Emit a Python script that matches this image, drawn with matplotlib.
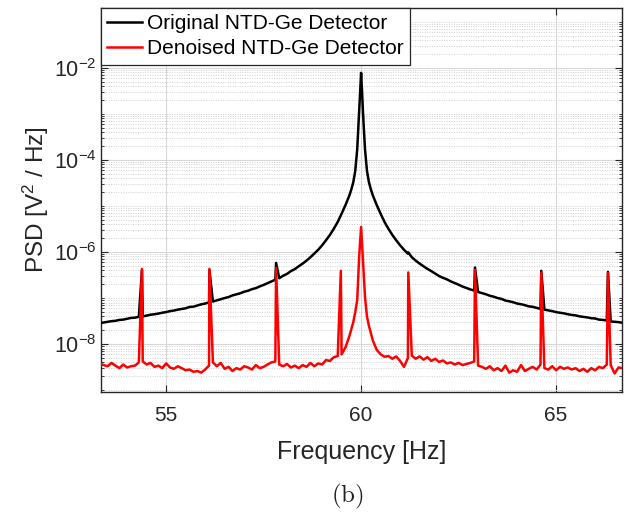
import numpy as np
import matplotlib
matplotlib.use("Agg")
import matplotlib.pyplot as plt
from matplotlib.ticker import LogLocator, FixedLocator, NullFormatter, NullLocator

plt.rcParams['font.family'] = ['Liberation Sans', 'DejaVu Sans']
plt.rcParams['mathtext.fontset'] = 'custom'
plt.rcParams['mathtext.rm'] = 'Liberation Sans'
plt.rcParams['mathtext.it'] = 'Liberation Sans:italic'
plt.rcParams['mathtext.default'] = 'regular'

# ---------------- data ----------------
# frequency bins (Hz), 0.1 Hz spacing
freq_grid = np.round(np.arange(53.3, 66.75, 0.1), 2)

# Original NTD-Ge detector PSD on the grid (units of 1e-8 V^2/Hz)
orig_psd_e8 = [
    2.85, 2.95, 3.05, 3.15, 3.2, 3.35, 3.4, 3.55, 3.7, 3.75,
    3.9, 4.0, 4.15, 4.35, 4.45, 4.6, 4.8, 4.95, 5.2, 5.35,
    5.6, 5.8, 6.0, 6.4, 6.5, 6.9, 7.3, 7.6, 8.0, 8.4,
    8.9, 9.4, 10.0, 10.5, 11.4, 12.0, 12.7, 13.7, 14.4, 15.6,
    16.4, 17.9, 19.3, 21.0, 22.8, 25.0, 27.0, 30.5, 33.5, 38.5,
    42.5, 49.0, 56.0, 65.0, 77.0, 93.0, 112.0, 140.0, 180.0, 235.0,
    320.0, 450.0, 680.0, 1050.0, 1700.0, 3300.0, 17000.0, 780000.0, 17000.0, 3300.0,
    1700.0, 1050.0, 680.0, 450.0, 320.0, 235.0, 180.0, 140.0, 112.0, 92.0,
    77.0, 65.0, 56.0, 49.0, 43.0, 38.5, 34.0, 30.0, 27.5, 25.5,
    23.0, 21.2, 19.5, 17.8, 16.6, 15.4, 14.6, 13.5, 12.8, 12.1,
    11.2, 10.7, 10.0, 9.6, 8.8, 8.5, 8.1, 7.6, 7.35, 7.0,
    6.6, 6.45, 6.1, 5.8, 5.6, 5.4, 5.2, 4.95, 4.8, 4.65,
    4.45, 4.3, 4.2, 4.0, 3.9, 3.8, 3.65, 3.6, 3.4, 3.35,
    3.25, 3.1, 3.05, 3.0, 2.9,
]
# extra points close to the 60 Hz line (Hz, 1e-8 V^2/Hz)
orig_center_freq = [59.75, 59.85, 59.95, 59.975, 60.025, 60.05, 60.15, 60.25]
orig_center_e8 = [2300.0, 5800.0, 110000.0, 300000.0, 300000.0, 100000.0, 5800.0, 2300.0]
# harmonic spikes on the original curve
orig_spike_freq = [54.38, 56.11, 57.82, 61.21, 62.92, 64.62, 66.33]
orig_spike_e8 = [40.0, 40.0, 58.0, 98.0, 46.0, 39.0, 37.0]

# Denoised detector PSD on the grid (units of 1e-9 V^2/Hz)
den_psd_e9 = [
    3.8, 3.5, 3.3, 3.9, 3.4, 3.0, 3.6, 3.1, 3.3, 3.4,
    4.0, 4.2, 3.6, 3.9, 3.2, 3.4, 3.0, 3.8, 3.1, 2.9,
    3.3, 3.0, 2.7, 2.8, 2.5, 2.6, 2.4, 2.8, 3.4, 4.0,
    3.3, 3.9, 2.9, 3.2, 2.6, 3.0, 2.8, 3.3, 3.1, 2.8,
    3.5, 3.0, 3.2, 3.6, 4.0, 4.2, 3.6, 3.3, 3.7, 3.1,
    3.4, 3.0, 3.5, 3.2, 3.9, 3.3, 3.8, 3.6, 4.5, 4.3,
    5.2, 5.5, 6.0, 8.5, 15.0, 30.0, 90.0, 3500.0, 105.0, 25.0,
    12.0, 7.5, 6.0, 5.3, 5.5, 4.8, 5.4, 4.3, 3.2, 5.0,
    5.6, 4.8, 5.4, 4.6, 5.2, 4.3, 4.8, 4.1, 4.4, 3.8,
    4.0, 3.6, 3.9, 3.5, 3.7, 3.9, 4.2, 3.4, 3.2, 2.9,
    3.3, 2.7, 3.0, 2.6, 3.4, 2.4, 2.7, 2.5, 3.5, 2.6,
    2.9, 3.2, 2.8, 3.6, 3.0, 2.8, 3.3, 2.7, 3.2, 2.9,
    3.1, 2.8, 3.0, 2.6, 2.9, 2.5, 3.0, 2.7, 3.2, 3.0,
    3.6, 3.5, 2.3, 3.1, 3.0,
]
den_center_freq = [59.85, 59.95, 60.05, 60.15]
den_center_e9 = [50.0, 800.0, 600.0, 40.0]
den_spike_freq = [54.38, 56.11, 57.82, 59.48, 61.21, 62.92, 64.62, 66.33]
den_spike_e9 = [430.0, 430.0, 450.0, 390.0, 360.0, 410.0, 360.0, 350.0]

legend_labels = ['Original NTD-Ge Detector', 'Denoised NTD-Ge Detector']
x_ticks = [55, 60, 65]
y_ticks = [1e-8, 1e-6, 1e-4, 1e-2]


def merge(fg, vg, *pairs):
    f = list(fg)
    v = list(vg)
    for fx, vx in pairs:
        f += list(fx)
        v += list(vx)
    order = np.argsort(f, kind='stable')
    return np.asarray(f)[order], np.asarray(v)[order]


of, ov = merge(freq_grid, orig_psd_e8, (orig_center_freq, orig_center_e8),
               (orig_spike_freq, orig_spike_e8))
ov = ov * 1e-8
df, dv = merge(freq_grid, den_psd_e9, (den_center_freq, den_center_e9),
               (den_spike_freq, den_spike_e9))
dv = dv * 1e-9

# ---------------- figure ----------------
fig = plt.figure(figsize=(6.29, 5.15), dpi=100)
ax = fig.add_axes([101 / 629, 1 - 392 / 515, 521 / 629, 384 / 515])

ax.semilogy(of, ov, color='black', lw=1.8, label=legend_labels[0], zorder=3)
ax.semilogy(df, dv, color='#ff0000', lw=1.8, label=legend_labels[1], zorder=4)

ax.set_xlim(53.33, 66.69)
ax.set_ylim(9.1e-10, 2.0e-1)

ax.xaxis.set_major_locator(FixedLocator(x_ticks))
ax.xaxis.set_minor_locator(NullLocator())
ax.yaxis.set_major_locator(FixedLocator(y_ticks))
ax.yaxis.set_minor_locator(LogLocator(base=10, subs=np.arange(1, 10), numticks=30))
ax.yaxis.set_minor_formatter(NullFormatter())
ax.set_yticklabels([r'$10^{-8}$', r'$10^{-6}$', r'$10^{-4}$', r'$10^{-2}$'])

ax.tick_params(axis='both', which='both', direction='in', top=True, right=True,
               colors='#262626', labelcolor='#262626')
ax.tick_params(axis='x', which='major', length=5, pad=10, labelsize=15)
ax.tick_params(axis='y', which='major', length=5, pad=3, labelsize=15.5)
ax.tick_params(axis='y', which='minor', length=2.5)

ax.grid(True, which='major', color='#d8d8d8', lw=0.8, ls='-')
ax.grid(True, which='minor', axis='y', color='#d0d0d0', lw=0.7, ls=(0, (1, 1.5)))
ax.set_axisbelow(True)
for s in ax.spines.values():
    s.set_color('#262626')
    s.set_linewidth(1.0)

ax.set_xlabel('Frequency [Hz]', fontsize=18, color='#262626', labelpad=11)
ax.set_ylabel(r'PSD [V$^2$ / Hz]', fontsize=17.5, color='#262626', labelpad=2)

leg = ax.legend(loc='upper left', bbox_to_anchor=(0, 1), borderaxespad=0,
                fontsize=15, frameon=True, fancybox=False, framealpha=1,
                edgecolor='#262626', handlelength=1.65, handletextpad=0.25,
                borderpad=0.3, labelspacing=0.3)
leg.get_frame().set_linewidth(0.9)
leg.set_zorder(10)

fig.text(347 / 629, 1 - 496 / 515, r'$\mathrm{(b)}$', math_fontfamily='cm',
         fontsize=18, ha='center', va='center', color='#202020')

fig.savefig('out.png', dpi=100)
